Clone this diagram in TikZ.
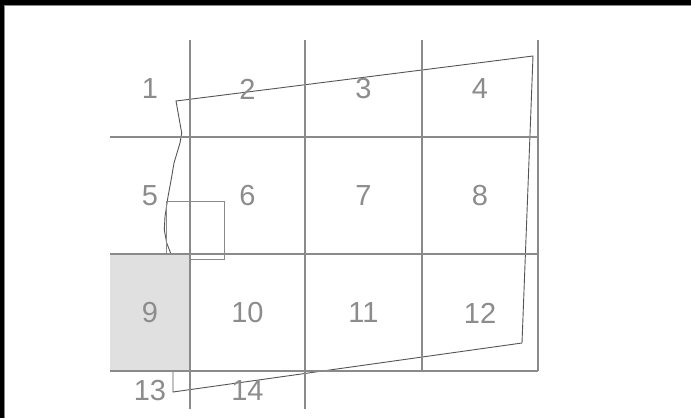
\documentclass[tikz,border=0pt]{standalone}
\usepackage{fontspec}
\setmainfont{Liberation Sans}
\definecolor{gridgray}{HTML}{8A8A8A}
\definecolor{txtgray}{HTML}{8C8C8C}
\definecolor{polygray}{HTML}{555555}
\definecolor{cellfill}{HTML}{E0E0E0}
\tikzset{
  gridline/.style={draw=gridgray, line width=1.3pt},
  outline/.style={draw=polygray, line width=0.9pt, line join=miter},
  smallrect/.style={draw=gridgray, line width=1pt},
  cellnum/.style={text=txtgray, font=\fontsize{29}{34}\selectfont, inner sep=0pt, anchor=center},
}
\begin{document}
\begin{tikzpicture}[x=1pt,y=-1pt]
\useasboundingbox (0,0) rectangle (691,418);
\fill[white] (0,0) rectangle (691,418);
% frame
\fill[black] (0,0) rectangle (691,4.5);
\fill[black] (0,0) rectangle (3.5,418);
\draw[gridgray, line width=0.8pt] (4,418) -- (4,5) -- (691,5);
% polygon outline
\draw[outline] (176,101) -- (533,56) -- (522,343) -- (173,392) -- (173,371) -- (171,254)
  -- (166.7,243) -- (164.3,230) -- (165,216.7) -- (168,196.7) -- (171.7,176.7)
  -- (174,163) -- (180,143) -- (181.7,133) -- cycle;
% small rectangle
\draw[smallrect] (166,201) rectangle (224,259);
% shaded cell
\fill[cellfill] (110,254) rectangle (190,371);
% grid
\draw[gridline] (190,40) -- (190,409);
\draw[gridline] (305,40) -- (305,409);
\draw[gridline] (422,40) -- (422,371);
\draw[gridline] (538,40) -- (538,371);
\draw[gridline] (110,137) -- (538,137);
\draw[gridline] (110,254) -- (538,254);
\draw[gridline] (110,371) -- (538,371);
% labels
\node[cellnum] (c1) at (150,89) {1};
\node[cellnum] (c2) at (247.5,89) {2};
\node[cellnum] (c3) at (363.5,89) {3};
\node[cellnum] (c4) at (480,89) {4};
\node[cellnum] (c5) at (150,196) {5};
\node[cellnum] (c6) at (247.5,196) {6};
\node[cellnum] (c7) at (363.5,196) {7};
\node[cellnum] (c8) at (480,196) {8};
\node[cellnum] (c9) at (150,313) {9};
\node[cellnum] (c10) at (247.5,313) {10};
\node[cellnum] (c11) at (363.5,313) {11};
\node[cellnum] (c12) at (480,313) {12};
\node[cellnum] (c13) at (150,390.5) {13};
\node[cellnum] (c14) at (247.5,390.5) {14};
\end{tikzpicture}
\end{document}
